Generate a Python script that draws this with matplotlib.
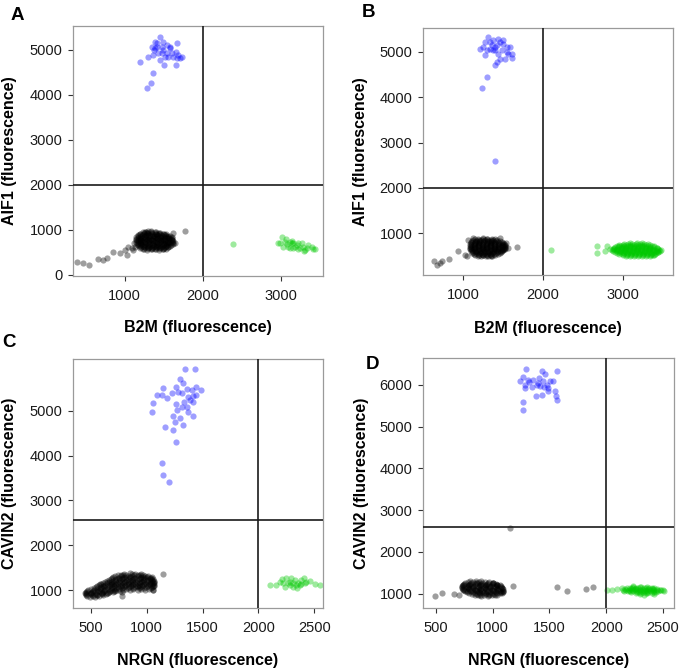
import matplotlib
matplotlib.use("Agg")
import matplotlib.pyplot as plt

plt.rcParams['font.family'] = ['Liberation Sans', 'DejaVu Sans']

# ---------------- Panel A : B2M vs AIF1 ----------------
a_blue_x = [1197,1359,1333,1291,1303,1376,1410,1389,1453,1496,1538,1581,1667,1654,1688,1709,1658,1509,1453,1432,1368,1538,1496,1603,1624,1560,1474,1410,1346,1474,1581,1667,1731,1389,1517]
a_blue_y = [4726,4489,4252,4156,4844,4993,5067,5178,5289,5178,5104,5030,5156,4956,4881,4807,4659,4659,4770,4919,4881,4919,4993,4919,4844,4844,4919,5141,5067,5067,5067,4807,4844,5030,4844]

a_black_x = [393,470,547,662,726,769,855,940,1004,1026,1047,1090,1132,1175,1197,1774,1624,1538,1645,1303,1261,1100,1120,
             1270,1335,1400,
             1200,1250,1300,1350,1400,1450,1500,
             1170,1220,1270,1320,1370,1420,1470,1520,1560,
             1150,1200,1250,1300,1350,1400,1450,1500,1550,1600,
             1140,1190,1240,1290,1340,1390,1440,1490,1540,1590,
             1140,1190,1240,1290,1340,1390,1440,1490,1540,1600,
             1150,1200,1250,1300,1350,1400,1450,1500,1550,1610,
             1160,1210,1260,1310,1360,1410,1460,1510,1560,1620,
             1180,1230,1280,1330,1380,1430,1480,1530,1580,
             1200,1250,1300,1350,1400,1450,1500,1550,
             1240,1290,1340,1390,1440,1490]
a_black_y = [289,252,215,341,326,363,511,474,548,437,622,585,622,659,733,970,919,711,696,970,956,540,700,
             955,965,950,
             915,925,920,930,915,920,910,
             880,875,885,880,870,885,880,875,870,
             840,845,835,840,850,835,840,845,835,830,
             800,795,805,800,790,805,800,795,805,800,
             760,765,755,760,770,755,760,765,755,760,
             720,715,725,720,710,725,720,715,725,720,
             680,685,675,680,690,675,680,685,675,680,
             640,635,645,640,630,645,640,635,645,
             600,605,595,600,610,595,600,605,
             560,555,565,560,550,565]
a_black2_x = [1240,1290,1340,1390,1440,
              1195,1245,1295,1345,1395,1445,1495,1535,
              1175,1225,1275,1325,1375,1425,1475,1525,1575,
              1165,1215,1265,1315,1365,1415,1465,1515,1565,1605,
              1165,1215,1265,1315,1365,1415,1465,1515,1565,1610,
              1165,1215,1265,1315,1365,1415,1465,1515,1565,1615,
              1175,1225,1275,1325,1375,1425,1475,1525,1575,1620,
              1195,1245,1295,1345,1395,1445,1495,1545,1590,
              1215,1265,1315,1365,1415,1465,1515,1560,
              1245,1295,1345,1395,1445,1495,1530]
a_black2_y = [940,935,945,940,935,
              900,905,895,900,905,895,900,905,
              860,855,865,860,855,865,860,855,865,
              820,825,815,820,825,815,820,825,815,820,
              780,775,785,780,775,785,780,775,785,780,
              740,745,735,740,745,735,740,745,735,740,
              700,695,705,700,695,705,700,695,705,700,
              660,665,655,660,665,655,660,665,655,
              620,615,625,620,615,625,620,615,
              580,585,575,580,585,575,580]

a_green_x = [2393,3013,2991,3056,3098,3141,3162,3205,3248,3269,3312,3355,3397,3419,3034,3077,3120,3184,3226,3291,3333,3068,3141,3226,3299,3162,3120,3440,2960]
a_green_y = [674,844,696,733,622,696,585,659,585,711,548,659,622,563,622,674,585,622,696,607,585,785,756,563,533,696,733,580,700]

# ---------------- Panel B : B2M vs AIF1 ----------------
b_blue_x = [1209,1314,1272,1377,1418,1460,1502,1544,1586,1607,1523,1460,1418,1397,1293,1230,1397,1377,1335,1293,1397,1397,1356,1272,1251,1490,1439,1565,1607,1502,1335,1439,1544]
b_blue_y = [5073,5330,5220,5257,5147,5220,5183,5110,5110,4963,4853,4853,4780,4706,4450,4215,2593,5037,5073,5037,5037,5110,5147,4927,5110,5037,4963,4963,4875,5257,5220,5293,5000]

b_black_x = [624,666,729,812,937,1021,1565,1670,1460,1125,700,1040,1060,1540,
             1180,1240,1300,1360,
             1120,1170,1220,1270,1320,1370,1420,
             1090,1140,1190,1240,1290,1340,1390,1440,1480,
             1080,1130,1180,1230,1280,1330,1380,1430,1480,1510,
             1080,1130,1180,1230,1280,1330,1380,1430,1480,1520,
             1080,1130,1180,1230,1280,1330,1380,1430,1480,1520,
             1080,1130,1180,1230,1280,1330,1380,1430,1480,1510,
             1090,1140,1190,1240,1290,1340,1390,1440,1490,
             1110,1160,1210,1260,1310,1360,1410,1460,
             1150,1200,1250,1300,1350,1400,
             1220,1280,1340]
b_black_y = [375,302,375,427,595,522,670,683,890,890,340,500,850,780,
             875,885,880,870,
             840,835,845,840,835,845,840,
             800,805,795,800,805,795,800,805,795,
             760,755,765,760,755,765,760,755,765,760,
             720,725,715,720,725,715,720,725,715,720,
             680,675,685,680,675,685,680,675,685,680,
             640,645,635,640,645,635,640,645,635,640,
             600,595,605,600,595,605,600,595,605,
             560,565,555,560,565,555,560,565,
             520,515,525,520,515,525,
             490,485,495]
b_black2_x = [1150,1200,1250,1300,1350,1400,
              1105,1155,1205,1255,1305,1355,1405,1455,
              1095,1145,1195,1245,1295,1345,1395,1445,1495,
              1095,1145,1195,1245,1295,1345,1395,1445,1495,1520,
              1095,1145,1195,1245,1295,1345,1395,1445,1495,1525,
              1095,1145,1195,1245,1295,1345,1395,1445,1495,1520,
              1105,1155,1205,1255,1305,1355,1405,1455,1500,
              1125,1175,1225,1275,1325,1375,1425,1475,
              1135,1185,1235,1285,1335,1385,1430,
              1185,1245,1305,1365]
b_black2_y = [860,855,865,860,855,865,
              820,825,815,820,825,815,820,825,
              780,775,785,780,775,785,780,775,785,
              740,745,735,740,745,735,740,745,735,740,
              700,695,705,700,695,705,700,695,705,700,
              660,665,655,660,665,655,660,665,655,660,
              620,615,625,620,615,625,620,615,625,
              580,585,575,580,585,575,580,585,
              540,535,545,540,535,545,540,
              505,510,500,505]

b_green_x = [2096,2674,2674,2778,2799,3490,3385,2840,3450,
             3100,3180,3250,
             2950,3000,3050,3100,3150,3200,3250,3300,3350,
             2900,2950,3000,3050,3100,3150,3200,3250,3300,3350,3400,
             2880,2930,2980,3030,3080,3130,3180,3230,3280,3330,3380,3430,
             2870,2920,2970,3020,3070,3120,3170,3220,3270,3320,3370,3420,3460,
             2900,2950,3000,3050,3100,3150,3200,3250,3300,3350,3400,3450,
             2960,3010,3060,3110,3160,3210,3260,3310,3360,3410,
             3050,3100,3150,3200,3250,3300,3350]
b_green_y = [618,721,560,596,706,618,523,650,580,
             780,790,775,
             740,745,735,740,745,735,740,745,735,
             700,705,695,700,705,695,700,705,695,700,705,
             660,655,665,660,655,665,660,655,665,660,655,665,
             620,625,615,620,625,615,620,625,615,620,625,615,620,
             580,575,585,580,575,585,580,575,585,580,575,585,
             540,545,535,540,545,535,540,545,535,540,
             500,505,495,500,505,495,500]
b_green2_x = [3025,3075,3125,3175,3225,3275,3325,
              2925,2975,3025,3075,3125,3175,3225,3275,3325,3375,
              2895,2945,2995,3045,3095,3145,3195,3245,3295,3345,3395,3440,
              2895,2945,2995,3045,3095,3145,3195,3245,3295,3345,3395,3445,
              2885,2935,2985,3035,3085,3135,3185,3235,3285,3335,3385,3435,3470,
              2925,2975,3025,3075,3125,3175,3225,3275,3325,3375,3425,
              3005,3055,3105,3155,3205,3255,3305,3355,3400]
b_green2_y = [760,765,755,760,765,755,760,
              720,715,725,720,715,725,720,715,725,720,
              680,685,675,680,685,675,680,685,675,680,685,675,
              640,635,645,640,635,645,640,635,645,640,635,645,
              600,605,595,600,605,595,600,605,595,600,605,595,600,
              560,555,565,560,555,565,560,555,565,560,555,
              520,525,515,520,525,515,520,525,515]

# ---------------- Panel C : NRGN vs CAVIN2 ----------------
c_blue_x = [1342,1437,1298,1327,1149,1262,1089,1134,1179,1223,1283,1313,1357,1402,1446,1485,1446,1411,1372,1387,1417,1357,1336,1313,1262,1274,1238,1298,1372,1417,1253,1321,1238,1164,1262,1054,1051,1134,1149,1199]
c_blue_y = [5920,5920,5698,5623,5512,5519,5349,5349,5275,5401,5423,5386,5475,5460,5534,5460,5349,5327,5312,5238,5200,5089,5200,5089,5148,5015,4881,4829,4978,4881,4755,4681,4570,4644,4295,5178,4978,3827,3568,3419]

c_black_x = [1143,1045,1060,777,
             800,850,900,950,
             740,790,840,890,940,990,
             700,750,800,850,900,950,1000,1040,
             680,730,780,830,880,930,980,1030,1060,
             650,700,750,800,850,900,950,1000,1050,1070,
             610,660,710,760,810,860,910,960,1010,1060,
             580,630,680,730,780,830,880,930,980,1030,1070,
             560,610,660,710,760,810,860,910,960,1010,1060,
             530,580,630,680,730,780,830,880,930,980,1040,
             480,530,580,630,680,730,790,850,920,990,1060,
             460,510,560,610,660,710,780,
             450,500,550,600,650,
             460,510,560,610,
             490,540]
c_black_y = [1356,1304,1007,881,
             1370,1375,1365,1370,
             1330,1335,1325,1330,1335,1325,
             1290,1285,1295,1290,1285,1295,1290,1285,
             1250,1255,1245,1250,1255,1245,1250,1255,1245,
             1210,1205,1215,1210,1205,1215,1210,1205,1215,1210,
             1170,1175,1165,1170,1175,1165,1170,1175,1165,1170,
             1130,1125,1135,1130,1125,1135,1130,1125,1135,1130,1125,
             1090,1095,1085,1090,1095,1085,1090,1095,1085,1090,1095,
             1050,1045,1055,1050,1045,1055,1050,1045,1055,1050,1045,
             1010,1015,1005,1010,1015,1005,1010,1015,1005,1010,1015,
             970,965,975,970,965,975,970,
             930,935,925,930,935,
             890,885,895,890,
             850,855]
c_black2_x = [770,820,870,920,970,
              720,770,820,870,920,970,1010,
              690,740,790,840,890,940,990,1030,
              665,715,765,815,865,915,965,1015,1050,
              630,680,730,780,830,880,930,980,1030,1065,
              595,645,695,745,795,845,895,945,995,1045,1070,
              570,620,670,720,770,820,870,920,970,1020,1065,
              545,595,645,695,745,795,845,895,945,995,1050,
              505,555,605,655,705,755,815,880,950,1020,
              470,520,570,620,670,720,760,
              455,505,555,605,655,700,
              455,505,555,605,640,
              470,520,570]
c_black2_y = [1350,1345,1355,1350,1345,
              1310,1315,1305,1310,1315,1305,1310,
              1270,1265,1275,1270,1265,1275,1270,1265,
              1230,1235,1225,1230,1235,1225,1230,1235,1225,
              1190,1185,1195,1190,1185,1195,1190,1185,1195,1190,
              1150,1155,1145,1150,1155,1145,1150,1155,1145,1150,1155,
              1110,1105,1115,1110,1105,1115,1110,1105,1115,1110,1105,
              1070,1075,1065,1070,1075,1065,1070,1075,1065,1070,1075,
              1030,1025,1035,1030,1025,1035,1030,1025,1035,1030,
              990,995,985,990,995,985,990,
              950,945,955,950,945,955,
              910,915,905,910,915,
              870,865,875]

c_green_x = [2101,2161,2190,2214,2250,2280,2295,2324,2354,2384,2405,2429,2464,2503,2548,2235,2310,2348,2280,2339,2384,2414,2220,2265,2310,2369]
c_green_y = [1119,1119,1193,1245,1267,1193,1267,1230,1156,1230,1267,1193,1215,1141,1119,1082,1082,1045,1119,1119,1141,1156,1156,1156,1171,1119]

# ---------------- Panel D : NRGN vs CAVIN2 ----------------
d_blue_x = [1294,1264,1241,1285,1323,1358,1402,1431,1460,1411,1446,1475,1504,1534,1563,1548,1557,1563,1490,1431,1381,1387,1343,1285,1264,1264,1417,1490,1452,1314]
d_blue_y = [6375,6175,6080,6000,6056,6120,6040,6319,6263,6160,6080,6000,6080,6080,6319,5841,5721,5625,5841,5761,5737,6000,5944,5920,5577,5386,5960,5920,5944,6120]

d_black_x = [494,553,655,699,772,1182,1563,1651,1826,1885,1153,1036,1006,
             800,850,900,
             760,810,860,910,960,1000,
             740,790,840,890,940,990,1040,
             730,780,830,880,930,980,1030,1070,
             730,780,830,880,930,980,1030,1080,
             740,790,840,890,940,990,1040,1090,
             760,810,860,910,960,1010,1060,1090,
             790,840,890,940,990,1040,1080,
             840,890,940,990,1040,
             900,960]
d_black_y = [936,1016,1000,976,1056,1175,1159,1072,1120,1152,2571,1215,1255,
             1300,1305,1295,
             1260,1265,1255,1260,1265,1255,
             1220,1215,1225,1220,1215,1225,1220,
             1180,1185,1175,1180,1185,1175,1180,1185,
             1140,1135,1145,1140,1135,1145,1140,1135,
             1100,1105,1095,1100,1105,1095,1100,1105,
             1060,1055,1065,1060,1055,1065,1060,1055,
             1020,1025,1015,1020,1025,1015,1020,
             980,975,985,980,975,
             950,955]
d_black2_x = [780,830,880,930,970,
              750,800,850,900,950,1000,1030,
              735,785,835,885,935,985,1035,1060,
              730,780,830,880,930,980,1030,1075,
              735,785,835,885,935,985,1035,1085,
              750,800,850,900,950,1000,1050,1090,
              775,825,875,925,975,1025,1070,1095,
              815,865,915,965,1015,1060,
              870,920,970,1020]
d_black2_y = [1280,1285,1275,1280,1285,
              1240,1235,1245,1240,1235,1245,1240,
              1200,1205,1195,1200,1205,1195,1200,1205,
              1160,1155,1165,1160,1155,1165,1160,1155,
              1120,1125,1115,1120,1125,1115,1120,1125,
              1080,1075,1085,1080,1075,1085,1080,1075,
              1040,1045,1035,1040,1045,1035,1040,1045,
              1000,995,1005,1000,995,1005,
              965,970,960,965]

d_green_x = [2003,2047,2091,2135,2500,2240,2330,2510,
             2240,2300,2360,
             2180,2230,2280,2330,2380,2420,
             2150,2200,2250,2300,2350,2400,2450,2480,
             2160,2210,2260,2310,2360,2410,2460,
             2220,2270,2320,2370,2420,
             2300,2350,2420]
d_green_y = [1096,1100,1112,1128,1090,1180,960,1075,
             1160,1165,1155,
             1130,1135,1125,1130,1135,1125,
             1100,1095,1105,1100,1095,1105,1100,1095,
             1070,1075,1065,1070,1075,1065,1070,
             1040,1035,1045,1040,1035,
             1000,1005,995]
d_green2_x = [2210,2260,2310,2350,2400,
              2165,2215,2265,2315,2365,2410,2450,
              2175,2225,2275,2325,2375,2425,2470,
              2190,2240,2290,2340,2390,2440,
              2260,2310,2360,2400]
d_green2_y = [1145,1140,1150,1145,1140,
              1115,1120,1110,1115,1120,1110,1115,
              1085,1080,1090,1085,1080,1090,1085,
              1055,1060,1050,1055,1060,1050,
              1020,1015,1025,1020]

# ---------------- styling / layout ----------------
W, H = 685, 671
fig = plt.figure(figsize=(W / 100, H / 100), dpi=100)

BLUE = '#0000FF'
GREEN = '#00C800'
BLACK = '#000000'
ALPHA = 0.38
SIZE = 20


def px_axes(l, t, r, b):
    return fig.add_axes([l / W, 1 - b / H, (r - l) / W, (b - t) / H])


def style(ax, xlim, ylim, xticks, yticks, vline, hline, xlabel, ylabel):
    ax.set_xlim(*xlim)
    ax.set_ylim(*ylim)
    ax.set_xticks(xticks)
    ax.set_yticks(yticks)
    ax.axvline(vline, color='#1a1a1a', lw=1.2, zorder=3)
    ax.axhline(hline, color='#1a1a1a', lw=1.2, zorder=3)
    for s in ax.spines.values():
        s.set_color('#9a9a9a')
        s.set_linewidth(0.9)
    ax.tick_params(axis='both', length=3.6, width=0.8, color='#333333',
                   labelsize=10.5, labelcolor='#1a1a1a')
    ax.tick_params(axis='x', pad=6)
    ax.tick_params(axis='y', pad=4)
    ax.set_xlabel(xlabel, fontsize=11.5, fontweight='bold', va='center')
    ax.set_ylabel(ylabel, fontsize=11.5, fontweight='bold', va='center')


def draw(ax, groups):
    for x, y, c in groups:
        ax.scatter(x, y, s=SIZE, color=c, alpha=ALPHA, linewidths=0, zorder=2)


axA = px_axes(73, 26, 323, 276)
draw(axA, [(a_black_x, a_black_y, BLACK), (a_black2_x, a_black2_y, BLACK),
           (a_green_x, a_green_y, GREEN), (a_blue_x, a_blue_y, BLUE)])
style(axA, (337, 3542), (-29, 5527), [1000, 2000, 3000], [0, 1000, 2000, 3000, 4000, 5000],
      2000, 2000, 'B2M (fluorescence)', 'AIF1 (fluorescence)')
axA.xaxis.set_label_coords(0.5, (276 - 327.5) / 250)
axA.yaxis.set_label_coords((10 - 73) / 250, 0.5)

axB = px_axes(423, 28, 673, 275)
draw(axB, [(b_black_x, b_black_y, BLACK), (b_black2_x, b_black2_y, BLACK),
           (b_green_x, b_green_y, GREEN), (b_green2_x, b_green2_y, GREEN),
           (b_blue_x, b_blue_y, BLUE)])
style(axB, (491, 3635), (75, 5529), [1000, 2000, 3000], [1000, 2000, 3000, 4000, 5000],
      2000, 2000, 'B2M (fluorescence)', 'AIF1 (fluorescence)')
axB.xaxis.set_label_coords(0.5, (275 - 328) / 247)
axB.yaxis.set_label_coords((360 - 423) / 250, 0.5)

axC = px_axes(73, 359, 323, 608)
draw(axC, [(c_black_x, c_black_y, BLACK), (c_black2_x, c_black2_y, BLACK),
           (c_green_x, c_green_y, GREEN), (c_blue_x, c_blue_y, BLUE)])
style(axC, (342, 2577), (606, 6151), [500, 1000, 1500, 2000, 2500], [1000, 2000, 3000, 4000, 5000],
      2000, 2560, 'NRGN (fluorescence)', 'CAVIN2 (fluorescence)')
axC.xaxis.set_label_coords(0.5, (608 - 661) / 249)
axC.yaxis.set_label_coords((10 - 73) / 250, 0.5)

axD = px_axes(423, 358, 674, 608)
draw(axD, [(d_black_x, d_black_y, BLACK), (d_black2_x, d_black2_y, BLACK),
           (d_green_x, d_green_y, GREEN), (d_green2_x, d_green2_y, GREEN),
           (d_blue_x, d_blue_y, BLUE)])
style(axD, (386, 2597), (658, 6639), [500, 1000, 1500, 2000, 2500], [1000, 2000, 3000, 4000, 5000, 6000],
      2000, 2600, 'NRGN (fluorescence)', 'CAVIN2 (fluorescence)')
axD.xaxis.set_label_coords(0.5, (608 - 660) / 250)
axD.yaxis.set_label_coords((361 - 423) / 251, 0.5)

for lbl, xp, yp in [('A', 11, 7), ('B', 362, 4), ('C', 2, 334), ('D', 366, 356)]:
    fig.text(xp / W, 1 - yp / H, lbl, fontsize=13.5, fontweight='bold', ha='left', va='top')

fig.savefig('out.png', dpi=100)
